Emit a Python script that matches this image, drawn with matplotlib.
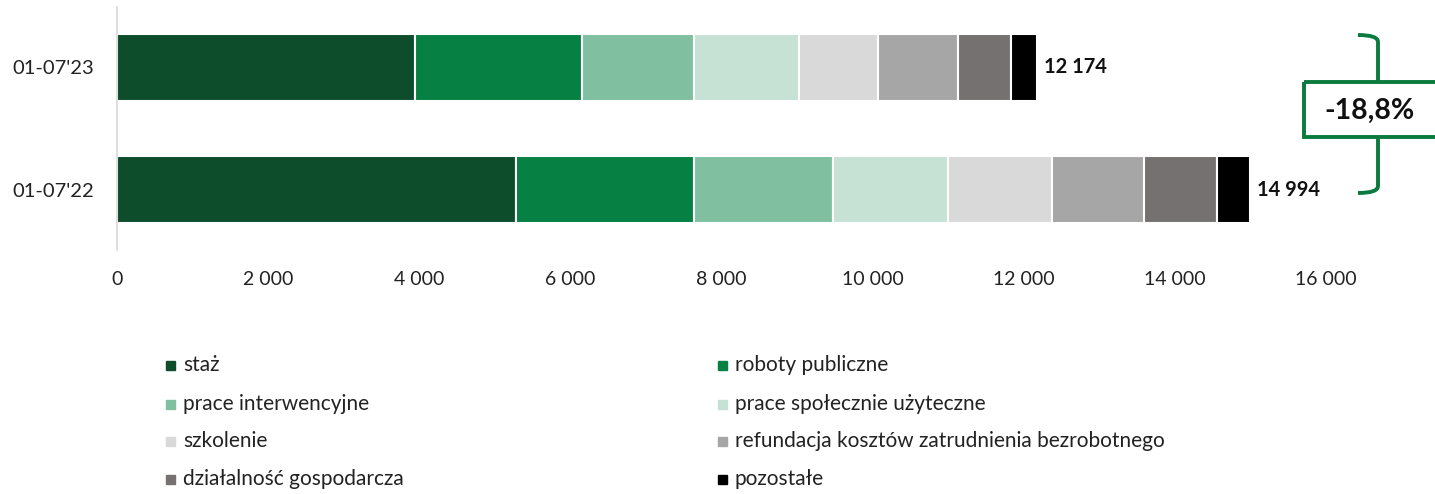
import matplotlib.pyplot as plt
from matplotlib.patches import Rectangle
from matplotlib.path import Path
from matplotlib.patches import PathPatch
import numpy as np

plt.rcParams['font.family'] = ['Lato', 'DejaVu Sans']

# data
periods = ["01-07'22", "01-07'23"]
categories = ["staż", "roboty publiczne", "prace interwencyjne",
              "prace społecznie użyteczne", "szkolenie",
              "refundacja kosztów zatrudnienia bezrobotnego",
              "działalność gospodarcza", "pozostałe"]
values_22 = [5280, 2350, 1850, 1515, 1380, 1210, 970, 439]
values_23 = [3940, 2210, 1490, 1385, 1050, 1052, 702, 345]
colors = ["#0d4d2c", "#068043", "#80bf9f", "#c6e2d4",
          "#d9d9d9", "#a6a6a6", "#767171", "#000000"]
xticks = [0, 2000, 4000, 6000, 8000, 10000, 12000, 14000, 16000]

W, H = 1435, 494
fig = plt.figure(figsize=(W / 100, H / 100), dpi=100)
ax = fig.add_axes([117 / W, 1 - 250 / H, (1326 - 117) / W, 243 / H])

data = np.array([values_22, values_23])
left = np.zeros(2)
ypos = np.arange(2)
for i, cat in enumerate(categories):
    ax.barh(ypos, data[:, i], left=left, height=0.545, color=colors[i],
            edgecolor="white", linewidth=1.5)
    left += data[:, i]

def fmt(v):
    return f"{int(round(v)):,}".replace(",", " ")

# totals at bar ends
for y, tot in zip(ypos, left):
    ax.text(tot + 90, y, fmt(tot), va="center", ha="left",
            fontsize=14.5, fontweight="bold", color="#111111")

ax.set_xlim(0, 16000)
ax.set_ylim(-0.488, 1.488)
ax.set_xticks(xticks)
ax.set_xticklabels([fmt(t) for t in xticks], fontsize=14, color="#222222")
ax.set_yticks(ypos)
ax.set_yticklabels(periods, fontsize=14.5, color="#222222")
ax.tick_params(length=0)
ax.tick_params(axis="x", pad=15)
ax.tick_params(axis="y", pad=16.5)
for s in ["top", "right", "bottom"]:
    ax.spines[s].set_visible(False)
ax.spines["left"].set_color("#d9d9d9")
ax.spines["left"].set_linewidth(1.2)

# overlay in pixel coordinates for legend and bracket
ov = fig.add_axes([0, 0, 1, 1])
ov.set_xlim(0, W)
ov.set_ylim(H, 0)
ov.axis("off")

row_y = [365, 404, 441, 479]
col_x = [170, 722]
for i, cat in enumerate(categories):
    cx = col_x[i % 2]
    cy = row_y[i // 2]
    ov.add_patch(Rectangle((cx - 4.5, cy - 4.5), 9, 9, color=colors[i]))
    ov.text(cx + 13, cy, cat, va="center", ha="left", fontsize=15,
            color="#222222")

# change bracket
green = "#0b7a3e"
change = (sum(values_23) - sum(values_22)) / sum(values_22) * 100
vx = 1378
top_path = Path([(1358, 35), (vx, 35), (vx, 42), (vx, 82)],
                [Path.MOVETO, Path.CURVE3, Path.CURVE3, Path.LINETO])
bot_path = Path([(vx, 137), (vx, 186), (vx, 193), (1358, 193)],
                [Path.MOVETO, Path.LINETO, Path.CURVE3, Path.CURVE3])
for p in (top_path, bot_path):
    ov.add_patch(PathPatch(p, fill=False, edgecolor=green, lw=2.8))
ov.add_patch(Rectangle((1304, 82), 140, 55, fill=False, edgecolor=green, lw=2.8,
                       clip_on=False))
ov.text(1370, 111, f"{change:.1f}%".replace(".", ","), ha="center", va="center",
        fontsize=20.5, fontweight="bold", color="#111111")

fig.savefig("out.png", dpi=100)
